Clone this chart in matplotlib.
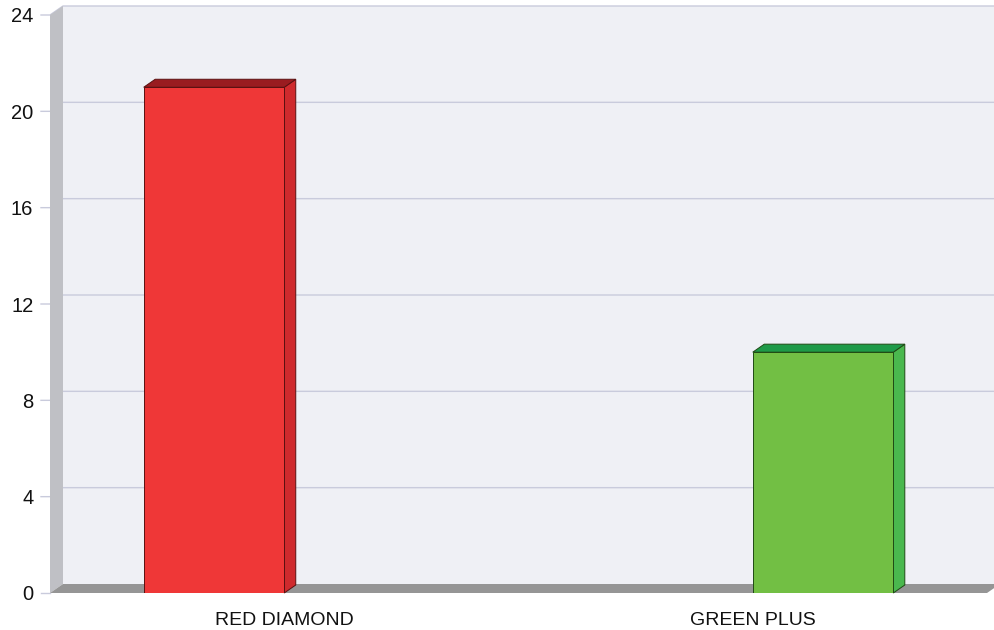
import matplotlib
matplotlib.use("Agg")
import matplotlib.pyplot as plt
from matplotlib.patches import Polygon, Rectangle

plt.rcParams['font.family'] = ['Liberation Sans', 'DejaVu Sans']

# chart data
categories = ["RED DIAMOND", "GREEN PLUS"]
values = [21, 10]
offsets = [-0.15, 0.15]
y_ticks = [0, 4, 8, 12, 16, 20, 24]

front_colors = ["#ef3737", "#72bf44"]
side_colors = ["#cf2a2d", "#4ab84e"]
top_colors = ["#9a1c20", "#1e9a48"]
edge_colors = ["#5a1010", "#1f4a14"]

W, H = 995, 630
fig = plt.figure(figsize=(W / 100, H / 100), dpi=100)
ax = fig.add_axes([50 / W, (H - 593) / H, (987 - 50) / W, (593 - 15) / H])

x0, x1 = -0.5, 1.5
y0, y1 = 0, 24
ax.set_xlim(x0, x1)
ax.set_ylim(y0, y1)

# convert pixel depth to data units
ax_w = (987 - 50)
ax_h = (593 - 15)
def px_x(p):
    return p * (x1 - x0) / ax_w
def px_y(p):
    return p * (y1 - y0) / ax_h

wdx, wdy = px_x(13), px_y(9)
bdx, bdy = px_x(11.5), px_y(8)

# back wall
ax.add_patch(Rectangle((x0 + wdx, y0 + wdy), (x1 - x0), (y1 - y0),
                       facecolor="#eff0f5", edgecolor="none", clip_on=False, zorder=0))
# left wall
ax.add_patch(Polygon([(x0, y0), (x0, y1), (x0 + wdx, y1 + wdy), (x0 + wdx, y0 + wdy)],
                     closed=True, facecolor="#bfc0c5", edgecolor="none", clip_on=False, zorder=1))
# floor
ax.add_patch(Polygon([(x0, y0), (x1, y0), (x1 + wdx, y0 + wdy), (x0 + wdx, y0 + wdy)],
                     closed=True, facecolor="#959595", edgecolor="none", clip_on=False, zorder=1))

# gridlines
for t in y_ticks[1:]:
    ax.plot([x0 - px_x(9), x0, x0 + wdx, x1 + wdx], [t, t, t + wdy, t + wdy],
            color="#c9cbdc", lw=1, clip_on=False, zorder=0.5)
ax.plot([x0 - px_x(9), x0], [0, 0], color="#c9cbdc", lw=1, clip_on=False, zorder=0.5)

# bars
for i, (cat, v) in enumerate(zip(categories, values)):
    c = i + offsets[i]
    w = 0.3
    l, r = c - w / 2, c + w / 2
    ax.add_patch(Polygon([(r, 0), (r, v), (r + bdx, v + bdy), (r + bdx, bdy)], closed=True,
                         facecolor=side_colors[i], edgecolor=edge_colors[i], lw=0.7,
                         clip_on=False, zorder=3))
    ax.add_patch(Polygon([(l, v), (r, v), (r + bdx, v + bdy), (l + bdx, v + bdy)], closed=True,
                         facecolor=top_colors[i], edgecolor=edge_colors[i], lw=0.7,
                         clip_on=False, zorder=3))
    ax.bar(c, v, width=w, color=front_colors[i], edgecolor=edge_colors[i], lw=0.7, zorder=4)

for s in ax.spines.values():
    s.set_visible(False)
ax.patch.set_visible(False)

ax.set_yticks(y_ticks)
ax.set_yticklabels([str(t) for t in y_ticks])
ax.tick_params(axis="y", length=0, pad=12, labelsize=14.5, labelcolor="#111111")
ax.set_xticks([0, 1])
ax.set_xticklabels(categories)
ax.tick_params(axis="x", length=0, pad=14, labelsize=14, labelcolor="#111111")

fig.savefig("out.png", dpi=100)
